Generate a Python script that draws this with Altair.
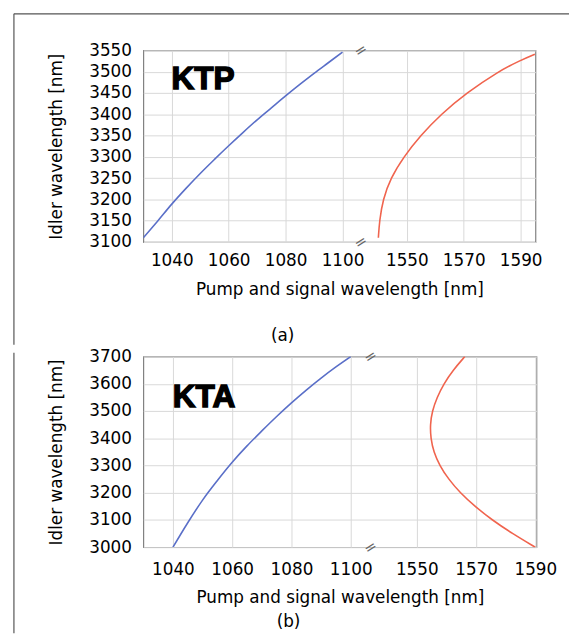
import altair as alt
import pandas as pd

# ---------------- data ----------------
# (a) KTP
ktp_pump_wl = [1030, 1035, 1040, 1045, 1050, 1055, 1060, 1065, 1070, 1075, 1080, 1085, 1090, 1095, 1100]
ktp_pump_idler = [3110, 3149, 3189, 3226, 3261, 3294, 3326, 3357, 3387, 3415, 3443, 3470, 3496, 3521, 3546]
ktp_sig_wl = [1540, 1540.4, 1541.6, 1544.3, 1548.9, 1554.8, 1562, 1571, 1582, 1590, 1595]
ktp_sig_idler = [3110, 3150, 3200, 3250, 3300, 3350, 3400, 3450, 3500, 3527, 3541]

# (b) KTA
kta_pump_wl = [1040, 1045, 1050, 1055, 1060, 1065, 1070, 1075, 1080, 1085, 1090, 1095, 1100]
kta_pump_idler = [3000, 3090, 3173, 3245, 3312, 3372, 3427, 3480, 3530, 3577, 3621, 3662, 3700]
kta_sig_wl = [1590, 1582.3, 1575.4, 1569.6, 1564.6, 1560.7, 1557.7, 1555.7, 1554.7, 1554.5, 1555.2, 1556.8, 1559.1, 1562.2, 1566.2]
kta_sig_idler = [3000, 3050, 3100, 3150, 3200, 3250, 3300, 3350, 3400, 3450, 3500, 3550, 3600, 3650, 3700]

pump_ticks = [1040, 1060, 1080, 1100]
signal_ticks = [1550, 1570, 1590]
ktp_y_ticks = [3100, 3150, 3200, 3250, 3300, 3350, 3400, 3450, 3500, 3550]
kta_y_ticks = [3000, 3100, 3200, 3300, 3400, 3500, 3600, 3700]

FONT = "DejaVu Sans"
BLUE = "#5a6fc8"
RED = "#f0644e"
FRAME = "#555555"


def panel(pump_wl, pump_idler, sig_wl, sig_idler, offset, xmax, ydomain, yticks,
          width, height, name, name_xy, sub, sub_xy, brk, frame_x, frame_y0, frame_y1,
          label_pad, title_pad, top_line=None, pad_rule=False):
    xscale = alt.Scale(domain=[1030, xmax], nice=False, zero=False)
    yscale = alt.Scale(domain=ydomain, nice=False, zero=False)
    xvals = pump_ticks + [t - offset for t in signal_ticks]

    pump_df = pd.DataFrame({"x": pump_wl, "y": pump_idler, "i": list(range(len(pump_wl)))})
    sig_df = pd.DataFrame({"s": sig_wl, "y": sig_idler, "i": list(range(len(sig_wl)))})

    xaxis = alt.Axis(
        values=xvals,
        labelExpr=f"datum.value > 1110 ? round(datum.value + {offset}) : round(datum.value)",
        title="Pump and signal wavelength [nm]",
        grid=True, ticks=False, domain=False,
        labelPadding=label_pad, titlePadding=title_pad,
    )
    yaxis = alt.Axis(
        values=yticks, format="d", title="Idler wavelength [nm]",
        grid=True, ticks=False, domain=False,
        labelPadding=12, titlePadding=24,
    )
    X = alt.X("x:Q", scale=xscale, axis=xaxis)
    Y = alt.Y("y:Q", scale=yscale, axis=yaxis)

    pump = alt.Chart(pump_df).mark_line(color=BLUE, strokeWidth=1.6, clip=True, interpolate="monotone").encode(
        x=X, y=Y, order="i:Q",
    )
    sig = alt.Chart(sig_df).transform_calculate(x=f"datum.s - {offset}").mark_line(
        color=RED, strokeWidth=1.6, clip=True, interpolate="basis"
    ).encode(x=X, y=Y, order="i:Q")
    lab_df = pd.DataFrame({"x": [name_xy[0]], "y": [name_xy[1]], "t": [name]})
    lab = alt.Chart(lab_df).mark_text(
        font="Liberation Sans", fontSize=32, fontWeight="bold", color="black",
        stroke="black", strokeWidth=1.4, align="center", baseline="middle",
    ).encode(x=X, y=Y, text="t:N")
    brk_df = pd.DataFrame({"x": [brk, brk], "y": [ydomain[0], ydomain[1]]})
    brks = alt.Chart(brk_df).mark_text(
        text="=", angle=328, fontSize=15, color="#666666", font=FONT,
        align="center", baseline="middle",
    ).encode(x=X, y=Y)
    one = pd.DataFrame({"a": [0]})
    sub_t = alt.Chart(one).mark_text(
        text=sub, font=FONT, fontSize=17, color="black", align="center", baseline="middle"
    ).encode(x=alt.value(sub_xy[0]), y=alt.value(sub_xy[1]))
    fl = alt.Chart(one).mark_rule(color=FRAME, strokeWidth=1.2).encode(
        x=alt.value(frame_x), y=alt.value(frame_y0), y2=alt.value(frame_y1)
    )
    layers = [pump, sig, lab, brks, sub_t, fl]
    if pad_rule:
        pr = alt.Chart(one).mark_rule(color="white", strokeWidth=1, opacity=0).encode(
            x=alt.value(frame_x - 5), y=alt.value(frame_y0 + 2), y2=alt.value(frame_y0 + 20)
        )
        layers.append(pr)
    if top_line is not None:
        tl = alt.Chart(one).mark_rule(color=FRAME, strokeWidth=1.2).encode(
            x=alt.value(frame_x), x2=alt.value(top_line[0]), y=alt.value(top_line[1])
        )
        layers.append(tl)
    return alt.layer(*layers).properties(width=width, height=height)


top = panel(ktp_pump_wl, ktp_pump_idler, ktp_sig_wl, ktp_sig_idler, 427.4, 1167.8,
            [3100, 3550], ktp_y_ticks, 397, 194, "KTP", (1051, 3482),
            "(a)", (141, 289), 1106.4, -131, -37, 298, 11, 13,
            top_line=(431, -37), pad_rule=True)
bottom = panel(kta_pump_wl, kta_pump_idler, kta_sig_wl, kta_sig_idler, 427.7, 1162.67,
               [3000, 3700], kta_y_ticks, 398, 193, "KTA", (1050.5, 3550),
               "(b)", (147, 269), 1106.6, -131, -4, 280, 15, 12)

chart = alt.vconcat(top, bottom, spacing=0, padding=0).configure_view(
    stroke="#808080", strokeWidth=1.2
).configure_axis(
    labelFont=FONT, labelFontSize=17, labelColor="black",
    titleFont=FONT, titleFontSize=17, titleColor="black", titleFontWeight="normal",
    gridColor="#d8d8d8", gridWidth=1,
)

chart.save("out.html", embed_options={"renderer": "svg", "actions": False})
